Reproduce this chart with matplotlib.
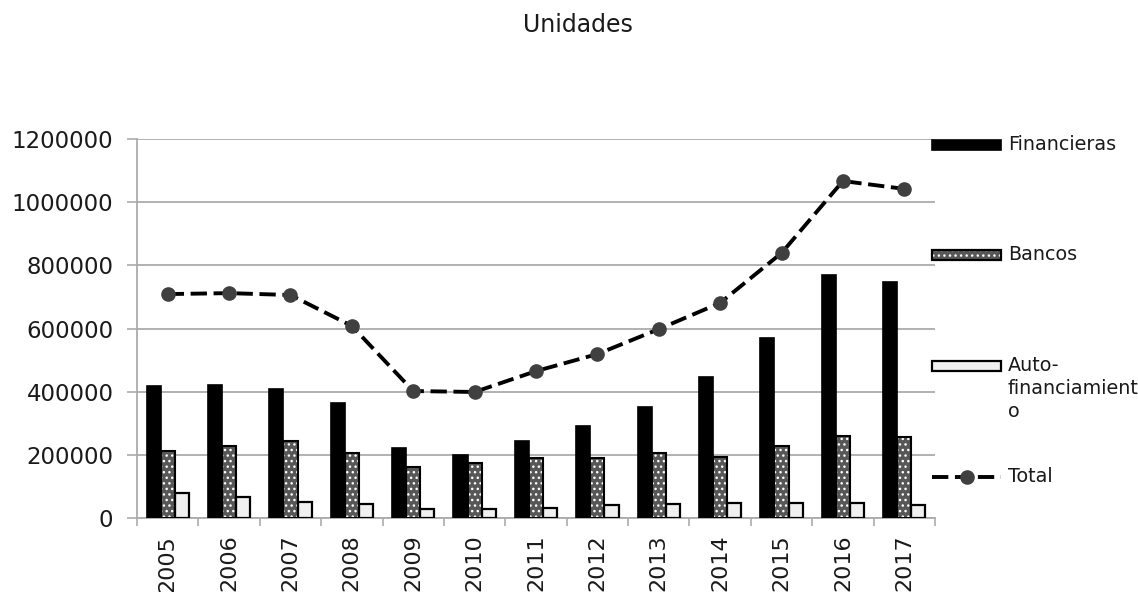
import numpy as np
import matplotlib
matplotlib.use('Agg')
import matplotlib.pyplot as plt
from matplotlib.patches import Rectangle
from matplotlib.lines import Line2D

plt.rcParams['font.family'] = ['DejaVu Sans']

years = ['2005', '2006', '2007', '2008', '2009', '2010', '2011',
         '2012', '2013', '2014', '2015', '2016', '2017']
financieras = [418000, 421000, 408000, 364000, 222000, 199000, 244000,
               291000, 351000, 446000, 570000, 769000, 747000]
bancos = [212000, 228000, 244000, 206000, 161000, 174000, 190000,
          190000, 206000, 193000, 228000, 260000, 256000]
autofin = [79000, 66000, 51000, 44000, 28000, 28000, 32000,
           41000, 44000, 47000, 47000, 47000, 41000]
total = [709000, 712000, 706000, 608000, 402000, 399000, 465000,
         519000, 598000, 681000, 839000, 1067000, 1042000]

GRID = '#ababab'
TXT = '#1a1a1a'
DASH = (0, (4.2, 1.7))
W, H = 1138, 592

fig = plt.figure(figsize=(W / 100, H / 100), dpi=100)
ax = fig.add_axes([137 / W, 1 - 518 / H, (935 - 137) / W, (518 - 139) / H])

x = np.arange(len(years))
bw = 0.23

ax.bar(x - bw, financieras, bw, color='black', edgecolor='black', linewidth=1.2, zorder=3)
# dotted fill first, then a plain black outline on top
ax.bar(x, bancos, bw, color='#575757', edgecolor='white', hatch='...', linewidth=0, zorder=3)
ax.bar(x, bancos, bw, fill=False, edgecolor='black', linewidth=1.5, zorder=4)
ax.bar(x + bw, autofin, bw, color='#f0f0f0', edgecolor='black', linewidth=1.6, zorder=3)

ax.plot(x, total, color='black', linestyle=DASH, linewidth=2.8,
        marker='o', markersize=9.5, markerfacecolor='#404040', markeredgecolor='#404040', zorder=5)

ax.set_xlim(-0.5, len(years) - 0.5)
ax.set_ylim(0, 1200000)
ax.set_yticks(np.arange(0, 1200001, 200000))
ax.set_yticklabels([f'{v:d}' for v in range(0, 1200001, 200000)])
ax.yaxis.grid(True, color=GRID, linewidth=1.3, zorder=0)
ax.set_axisbelow(True)

ax.set_xticks(x)
ax.set_xticklabels(years, rotation=90)
ax.set_xticks(np.arange(-0.5, len(years)), minor=True)
ax.tick_params(axis='x', which='major', length=0, pad=12, labelsize=16, labelcolor=TXT)
ax.tick_params(axis='x', which='minor', length=6, color=GRID, width=1.2)
ax.tick_params(axis='y', length=7, color=GRID, width=1.2, pad=10, labelsize=16.5, labelcolor=TXT)

for side in ('top', 'right'):
    ax.spines[side].set_visible(False)
for side in ('left', 'bottom'):
    ax.spines[side].set_color(GRID)
    ax.spines[side].set_linewidth(1.3)

fig.text(578 / W, 1 - 25 / H, 'Unidades', ha='center', va='center', fontsize=17, color=TXT)

# legend on the right, drawn in figure pixel units
def fx(px):
    return px / W

def fy(py):
    return 1 - py / H

lg_fs = 13.8
sw_x0, sw_x1, sw_h = 932, 1001, 10
text_x = 1008
sw_w = fx(sw_x1) - fx(sw_x0)

def swatch(cy, **kw):
    fig.patches.append(Rectangle((fx(sw_x0), fy(cy + sw_h / 2)), sw_w, sw_h / H,
                                 transform=fig.transFigure, figure=fig, **kw))

swatch(145, facecolor='black', edgecolor='black', linewidth=1.2)
fig.text(fx(text_x), fy(145), 'Financieras', ha='left', va='center', fontsize=lg_fs, color=TXT)

swatch(255, facecolor='#575757', edgecolor='white', hatch='...', linewidth=0)
swatch(255, fill=False, edgecolor='black', linewidth=1.6)
fig.text(fx(text_x), fy(255), 'Bancos', ha='left', va='center', fontsize=lg_fs, color=TXT)

swatch(366, facecolor='#f0f0f0', edgecolor='black', linewidth=1.6)
fig.text(fx(text_x), fy(356), 'Auto-\nfinanciamient\no', ha='left', va='top', fontsize=lg_fs,
         color=TXT, linespacing=1.28)

fig.lines.append(Line2D([fx(sw_x0), fx(sw_x1)], [fy(477), fy(477)], color='black',
                        linestyle=DASH, linewidth=2.8, transform=fig.transFigure, figure=fig))
fig.lines.append(Line2D([fx(967)], [fy(477)], marker='o', markersize=9.5, color='#404040',
                        transform=fig.transFigure, figure=fig))
fig.text(fx(text_x), fy(477), 'Total', ha='left', va='center', fontsize=lg_fs, color=TXT)

fig.savefig('out.png', dpi=100)
